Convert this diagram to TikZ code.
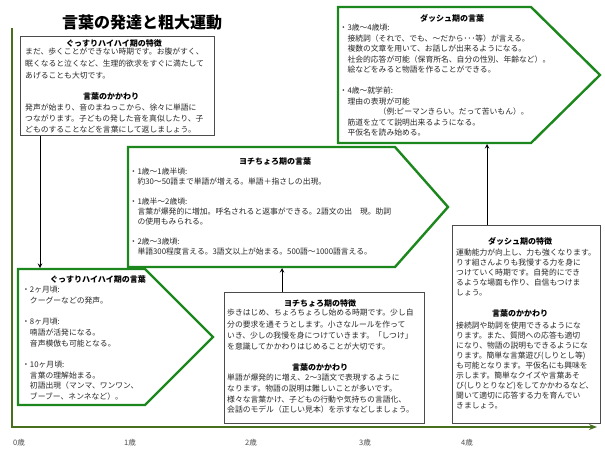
\documentclass[tikz,border=0pt]{standalone}
\usepackage{fontspec}
\setmainfont{Noto Sans CJK JP}
\usetikzlibrary{arrows.meta}
\definecolor{axisgreen}{RGB}{70,112,30}
\definecolor{bandgreen}{RGB}{28,135,28}
\definecolor{inkgray}{RGB}{40,40,40}

\begin{document}
\begin{tikzpicture}[x=1pt, y=-1pt, >=stealth,
  band/.style={draw=bandgreen, line width=2.4pt, fill=white, line join=miter},
  card/.style={draw=black!70, line width=0.7pt, fill=white, inner sep=0pt, anchor=north west},
  hd/.style={font=\fontsize{8}{10}\selectfont\bfseries, inner sep=0pt, anchor=base},
  txt/.style={font=\fontsize{7.8}{#1}\selectfont, align=left, inner sep=0pt, anchor=north west, text=inkgray},
  txt/.default=11,
  age/.style={font=\fontsize{7.5}{9}\selectfont, inner sep=0pt, anchor=base, text=black!70}]
  \useasboundingbox (0,0) rectangle (605,453);
  \fill[white] (0,0) rectangle (605,453);

  \node[font=\fontsize{16}{18}\selectfont\bfseries, inner sep=0pt, anchor=base] (title) at (142,28) {言葉の発達と粗大運動};

  % age axis
  \coordinate (ytop) at (12,28);
  \coordinate (orig) at (12,427);
  \coordinate (xend) at (597,427);
  \draw[axisgreen, line width=2.2pt, -{Stealth[length=8pt,width=6pt]}] (ytop) -- (orig) -- (xend);
  \foreach \x/\a in {19/0, 130/1, 251/2, 365/3, 467/4}
    \node[age] (age\a) at (\x,445) {\a 歳};

  % language stages
  \draw[band] (18,269) -- (145,269) -- (213,337) -- (145,405) -- (18,405) -- cycle;
  \draw[band] (128,147) -- (395,147) -- (448,207) -- (395,267) -- (128,267) -- cycle;
  \draw[band] (338,7) -- (531,7) -- (600,75) -- (531,143) -- (338,143) -- cycle;

  % feature cards
  \node[card, minimum width=194, minimum height=99] (box1) at (20,36) {};
  \node[card, minimum width=200, minimum height=131] (box2) at (224,292) {};
  \node[card, minimum width=148, minimum height=198] (box3) at (452,225) {};

  \coordinate (p1in) at (40,268);
  \coordinate (p2in) at (282,268);
  \coordinate (p3in) at (487,144);
  \draw[->, line width=1pt] (box1.south -| p1in) -- (p1in);
  \draw[->, line width=1pt] (box2.north -| p2in) -- (p2in);
  \draw[->, line width=1pt] (box3.north -| p3in) -- (p3in);

  % 0 years
  \node[hd] (b1head) at (114,46) {ぐっすりハイハイ期の特徴};
  \node[txt=11.8] (b1text) at (25,48) {まだ、歩くことができない時期です。お腹がすく、\\眠くなると泣くなど、生理的欲求をすぐに満たして\\あげることも大切です。};
  \node[hd] (b1head2) at (111,99) {言葉のかかわり};
  \node[txt=10.8] (b1talk) at (25,104) {発声が始まり、音のまねっこから、徐々に単語に\\つながります。子どもの発した音を真似したり、子\\どものすることなどを言葉にして返しましょう。};

  \node[hd] (p1head) at (98,282) {ぐっすりハイハイ期の言葉};
  \node[txt=10.7] (p1text) at (22,286) {・2ヶ月頃:\\　クーグーなどの発声。\\[10.7pt]・8ヶ月頃:\\　喃語が活発になる。\\　音声模倣も可能となる。\\[10.7pt]・10ヶ月頃:\\　言葉の理解始まる。\\　初語出現（マンマ、ワンワン、\\　ブーブー、ネンネなど）。};

  % 1-3 years
  \node[hd] (p2head) at (275,164) {ヨチちょろ期の言葉};
  \node[txt=10] (p2text) at (129.5,168) {・1歳〜1歳半頃:\\　約30〜50語まで単語が増える。単語＋指さしの出現。\\[10pt]・1歳半〜2歳頃:\\　言葉が爆発的に増加。呼名されると返事ができる。2語文の出　現。助詞\\　の使用もみられる。\\[10pt]・2歳〜3歳頃:\\　単語300程度言える。3語文以上が始まる。500語〜1000語言える。};

  \node[hd] (b2head) at (320,306) {ヨチちょろ期の特徴};
  \node[txt=11.3] (b2text) at (227,309) {歩きはじめ、ちょろちょろし始める時期です。少し自\\分の要求を通そうとします。小さなルールを作って\\いき、少しの我慢を身につけていきます。「しつけ」\\を意識してかかわりはじめることが大切です。};
  \node[hd] (b2head2) at (320,370) {言葉のかかわり};
  \node[txt=10.7] (b2talk) at (227,374) {単語が爆発的に増え、2〜3語文で表現するように\\なります。物語の説明は難しいことが多いです。\\様々な言葉かけ、子どもの行動や気持ちの言語化、\\会話のモデル（正しい見本）を示すなどしましょう。};

  % 3 years and up
  \node[hd] (p3head) at (452,21) {ダッシュ期の言葉};
  \node[txt=10.5] (p3text) at (339.5,24) {・3歳〜4歳頃:\\　接続詞（それで、でも、〜だから･･･等）が言える。\\　複数の文章を用いて、お話しが出来るようになる。\\　社会的応答が可能（保育所名、自分の性別、年齢など）。\\　絵などをみると物語を作ることができる。\\[10.5pt]・4歳〜就学前:\\　理由の表現が可能\\　　　　　（例:ピーマンきらい。だって苦いもん）。\\　筋道を立てて説明出来るようになる。\\　平仮名を読み始める。};

  \node[hd] (b3head) at (520,244) {ダッシュ期の特徴};
  \node[txt=9.8] (b3text) at (456,249) {運動能力が向上し、力も強くなります。\\りす組さんよりも我慢する力を身に\\つけていく時期です。自発的にでき\\るような場面も作り、自信もつけま\\しょう。};
  \node[hd] (b3head2) at (520,316) {言葉のかかわり};
  \node[txt=10] (b3talk) at (456,322) {接続詞や助詞を使用できるようにな\\ります。また、質問への応答も適切\\になり、物語の説明もできるようにな\\ります。簡単な言葉遊び(しりとし等)\\も可能となります。平仮名にも興味を\\示します。簡単なクイズや言葉あそ\\び(しりとりなど)をしてかかわるなど、\\聞いて適切に応答する力を育んでい\\きましょう。};
\end{tikzpicture}
\end{document}
